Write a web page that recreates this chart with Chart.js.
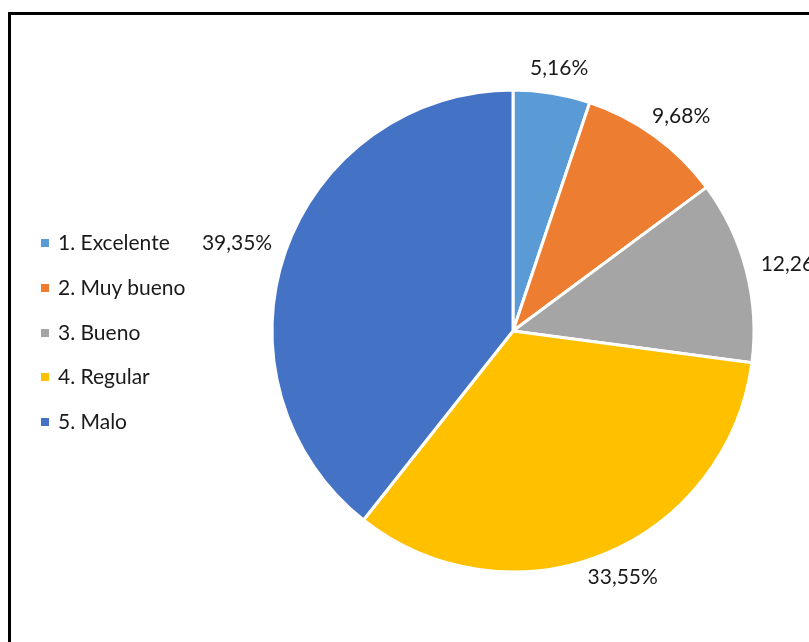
<!DOCTYPE html>
<html>
<head>
<meta charset="utf-8">
<script src="https://cdn.jsdelivr.net/npm/chart.js@4.4.0/dist/chart.umd.min.js"></script>
<style>
    html, body { margin: 0; padding: 0; background: #fff; }
    body { width: 809px; height: 642px; position: relative; overflow: hidden; font-family: Lato, "Open Sans", sans-serif; }
    .frame { position: absolute; left: 8px; top: 12px; width: 900px; height: 800px; border: 3px solid #000; }
    #chart { position: absolute; left: 0; top: 0; }
    .legend { position: absolute; left: 41px; top: 228px; margin: 0; padding: 0; list-style: none; }
    .legend li { height: 44.8px; line-height: 28px; font-size: 21px; color: #1a1a1a; white-space: nowrap; }
    .legend span { display: inline-block; width: 8px; height: 8px; margin-right: 9px; vertical-align: 3px; }
</style>
</head>
<body>
<div class="frame"></div>
<canvas id="chart" width="809" height="642"></canvas>
<ul class="legend" id="legend"></ul>
<script>
// Data
const categories = ['1. Excelente', '2. Muy bueno', '3. Bueno', '4. Regular', '5. Malo'];
const percentages = [5.16, 9.68, 12.26, 33.55, 39.35];
const sliceColors = ['#5B9BD5', '#ED7D31', '#A5A5A5', '#FFC000', '#4472C4'];

function formatPct(v) {
    return v.toFixed(2).replace('.', ',') + '%';
}

// Legend
const legend = document.getElementById('legend');
categories.forEach((name, i) => {
    const li = document.createElement('li');
    li.innerHTML = '<span style="background:' + sliceColors[i] + '"></span>' + name;
    legend.appendChild(li);
});

// Outside labels, placed from each arc's own geometry
const outsideLabels = {
    id: 'outsideLabels',
    afterDatasetsDraw(chart) {
        const ctx = chart.ctx;
        const meta = chart.getDatasetMeta(0);
        ctx.save();
        ctx.font = '21px Lato, "Open Sans", sans-serif';
        ctx.fillStyle = '#1a1a1a';
        ctx.textAlign = 'center';
        ctx.textBaseline = 'middle';
        meta.data.forEach((arc, i) => {
            const p = arc.getProps(['x', 'y', 'startAngle', 'endAngle', 'outerRadius'], true);
            const mid = (p.startAngle + p.endAngle) / 2;
            const text = formatPct(percentages[i]);
            const w = ctx.measureText(text).width;
            const h = 18;
            const d = p.outerRadius + 16;
            const cx = p.x + Math.cos(mid) * (d + w / 2);
            const cy = p.y + Math.sin(mid) * (d + h / 2);
            ctx.fillText(text, cx, cy);
        });
        ctx.restore();
    }
};

new Chart(document.getElementById('chart').getContext('2d'), {
    type: 'pie',
    data: {
        labels: categories,
        datasets: [{
            data: percentages,
            backgroundColor: sliceColors,
            borderColor: '#ffffff',
            borderWidth: 3,
            hoverOffset: 0
        }]
    },
    options: {
        responsive: false,
        animation: false,
        devicePixelRatio: 1,
        radius: 241,
        layout: { padding: { left: 273, right: 56, top: 91, bottom: 71 } },
        plugins: {
            legend: { display: false },
            tooltip: { enabled: false }
        }
    },
    plugins: [outsideLabels]
});
</script>
</body>
</html>
